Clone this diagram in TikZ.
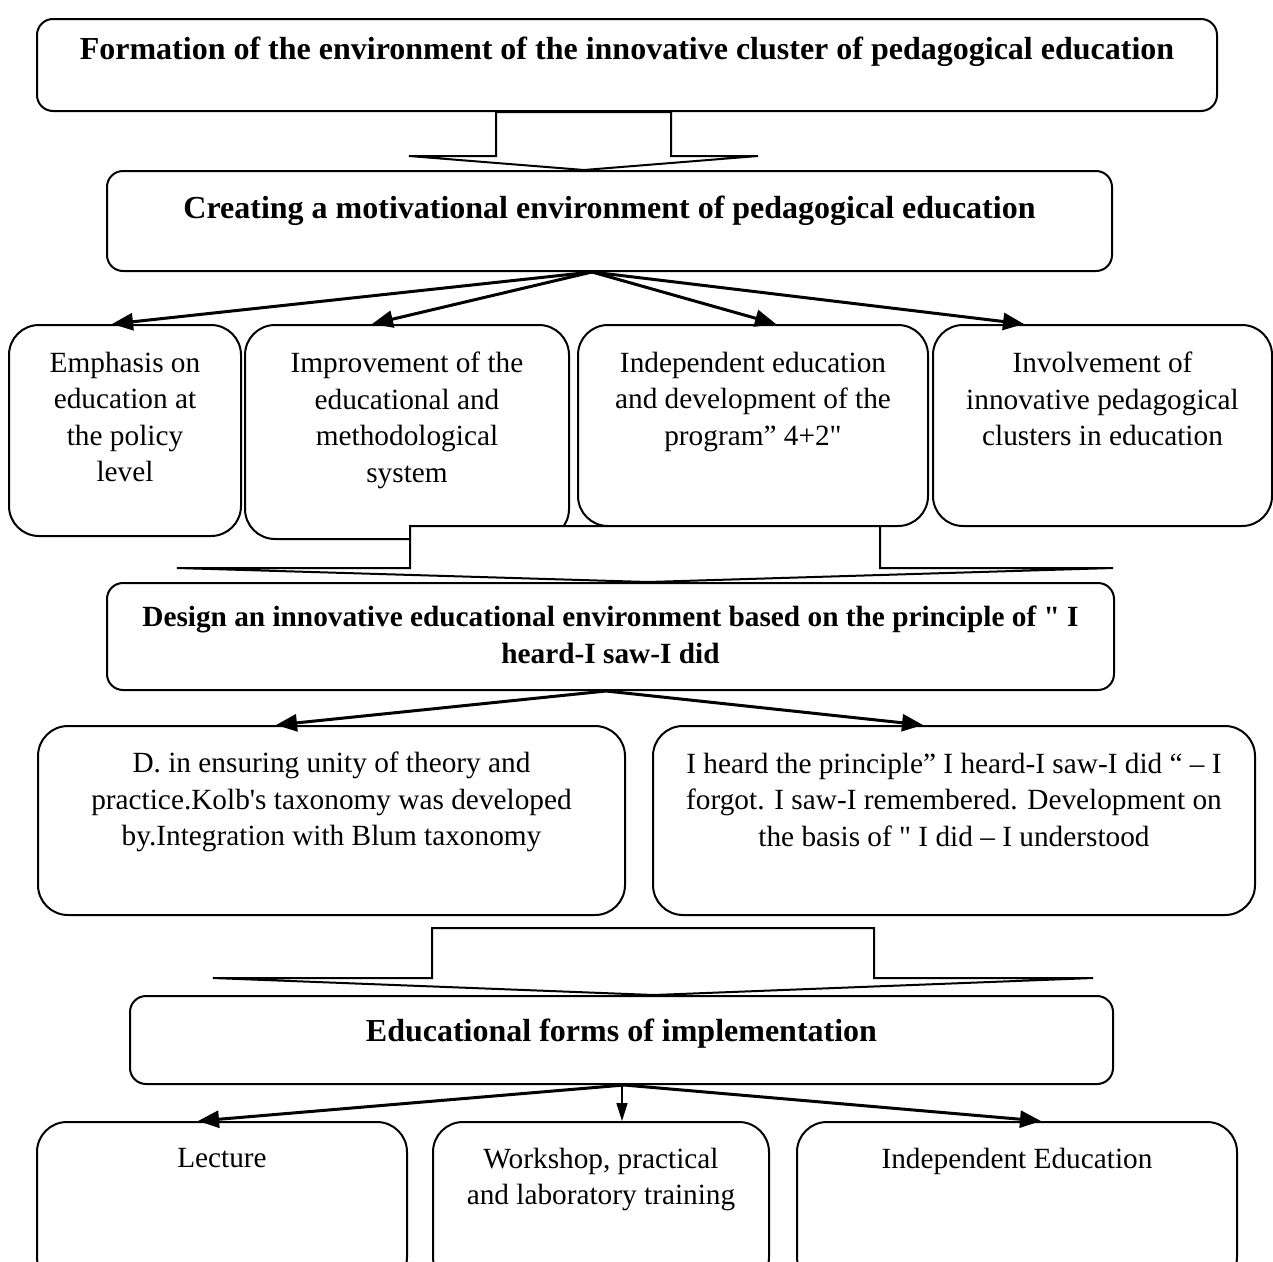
\documentclass[tikz,border=0pt]{standalone}
\usepackage{fontspec}
\setmainfont{Liberation Serif}[Ligatures=TeXOff]
\usetikzlibrary{arrows.meta}
\newcommand{\inbox}[4][26pt]{\parbox[t][#3pt][t]{#2pt}{\centering\vspace*{#1}#4}}

\begin{document}
\begin{tikzpicture}[x=1pt, y=-1pt]
              \tikzstyle{every node}+=[inner sep=0pt]
              \tikzstyle{box}=[draw, line width=2pt, rounded corners=30pt, anchor=north, font=\fontsize{29.3}{36.5}\selectfont]
              \tikzstyle{head}=[box, rounded corners=16pt, font=\fontsize{32}{37}\selectfont\bfseries]
              \tikzstyle{link}=[line width=3pt, -{Triangle[length=21pt, width=17pt]}]
              \tikzstyle{bigarrow}=[draw, line width=2pt, fill=white]
              \useasboundingbox (0,0) rectangle (1273,1261);
              % main chain
              \node[head] (form) at (627,18) {\inbox[18pt]{1180}{92}{Formation of the environment of the innovative cluster of pedagogical education}};
              \node[head] (motiv) at (609.5,170) {\inbox[25pt]{1005}{100}{Creating a motivational environment of pedagogical education}};
              \node[head, font=\fontsize{29.3}{37}\selectfont\bfseries] (design) at (610.5,582) {\inbox[23pt]{1007}{107}{Design an innovative educational environment based on the principle of " I\\heard-I saw-I did}};
              \node[head] (forms) at (621.5,995) {\inbox[23pt]{983}{88}{Educational forms of implementation}};
              % first row
              \node[box] (emph) at (125,324) {\inbox[27pt]{232}{211}{Emphasis on\\education at\\the policy\\level}};
              \node[box] (impr) at (407,324) {\inbox[27pt]{324}{214}{Improvement of the\\educational and\\methodological\\system}};
              \node[box] (indep) at (753,324) {\inbox[27pt]{350}{201}{Independent education\\and development of the\\program” 4+2"}};
              \node[box] (invol) at (1102.5,324) {\inbox[27pt]{339}{201}{Involvement of\\innovative pedagogical\\clusters in education}};
              % second row
              \node[box] (unity) at (331.5,725) {\inbox[26pt]{587}{189}{D. in ensuring unity of theory and\\practice.Kolb's taxonomy was developed\\by.Integration with Blum taxonomy}};
              \node[box] (heard) at (954,725) {\inbox[27pt]{602}{189}{I heard the principle” I heard-I saw-I did “ – I\\forgot. I saw-I remembered. Development on\\the basis of " I did – I understood}};
              % third row
              \node[box] (lect) at (222,1121) {\inbox[26pt]{370}{165}{Lecture}};
              \node[box] (work) at (601,1121) {\inbox[26pt]{336}{165}{Workshop, practical\\and laboratory training}};
              \node[box] (indedu) at (1017,1121) {\inbox[26pt]{440}{165}{Independent Education}};
              % block arrows
              \draw[bigarrow] (496,0 |- form.south) -- (496,156) -- (409,156) -- (584,0 |- motiv.north) -- (758,156) -- (671,156) -- (671,0 |- form.south) -- cycle;
              \draw[bigarrow] (410,526) -- (410,568) -- (177,568) -- (648,0 |- design.north) -- (1113,568) -- (880,568) -- (880,526) -- cycle;
              \draw[bigarrow] (432,928) -- (432,978) -- (213,978) -- (654,0 |- forms.north) -- (1093,978) -- (874,978) -- (874,928) -- cycle;
              % thin arrows
              \draw[link] (592,0 |- motiv.south) -- (112,0 |- emph.north);
              \draw[link] (592,0 |- motiv.south) -- (372,0 |- impr.north);
              \draw[link] (592,0 |- motiv.south) -- (776,0 |- indep.north);
              \draw[link] (592,0 |- motiv.south) -- (1024,0 |- invol.north);
              \draw[link] (606,0 |- design.south) -- (276,0 |- unity.north);
              \draw[link] (606,0 |- design.south) -- (923,0 |- heard.north);
              \draw[link] (624,0 |- forms.south) -- (198,0 |- lect.north);
              \draw[line width=1.5pt, -{Triangle[length=18pt, width=11pt]}] (622,0 |- forms.south) -- (622,0 |- work.north);
              \draw[link] (624,0 |- forms.south) -- (1041,0 |- indedu.north);
            \end{tikzpicture}
\end{document}
